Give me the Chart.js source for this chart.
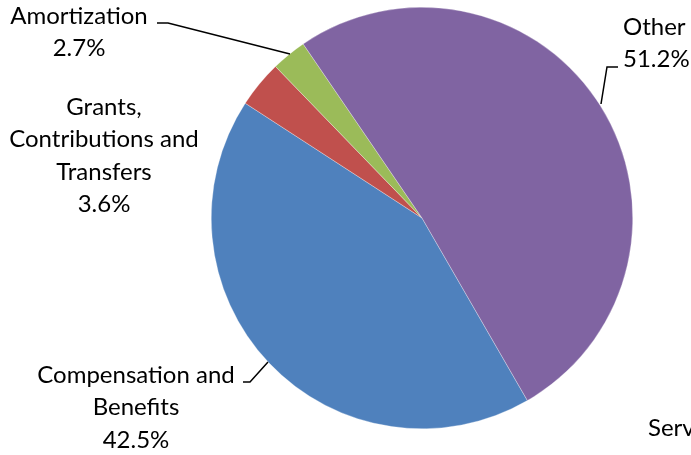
<!DOCTYPE html>
<html>
<head>
<meta charset="utf-8">
<script src="https://cdn.jsdelivr.net/npm/chart.js@4.4.0/dist/chart.umd.min.js"></script>
<style>
  html, body { margin: 0; padding: 0; background: #fff; overflow: hidden; }
  canvas { display: block; }
</style>
</head>
<body>
<canvas id="pieChart" width="691" height="455"></canvas>
<script>
const categories = ["Compensation and Benefits", "Grants, Contributions and Transfers", "Amortization", "Other"];
const shares = [42.5, 3.6, 2.7, 51.2];
const sliceColors = ["#4F81BD", "#C0504D", "#9BBB59", "#8064A2"];

// label text lines, anchored where Excel placed them
const labelLines = [
  ["Compensation and", "Benefits"],
  ["Grants,", "Contributions and", "Transfers"],
  ["Amortization"],
  ["Other"]
];
const labelSpots = [
  { x: 136, y: 375, align: "center" },
  { x: 104, y: 107, align: "center" },
  { x: 79, y: 16, align: "center" },
  { x: 623, y: 27, align: "left" }
];
// leader lines from label to slice edge
const leaders = [
  [[243, 382], [250, 382], [268, 362]],
  null,
  [[157, 23], [168, 23], [290, 54]],
  [[618, 67], [607, 67], [601, 104]]
];

const labelFont = "24px Lato, 'Open Sans', sans-serif";
const lineGap = 32.5;

const pieLabels = {
  id: "pieLabels",
  afterDraw(chart) {
    const ctx = chart.ctx;
    ctx.save();
    ctx.strokeStyle = "#000";
    ctx.lineWidth = 1.5;
    leaders.forEach(pts => {
      if (!pts) return;
      ctx.beginPath();
      ctx.moveTo(pts[0][0], pts[0][1]);
      for (let i = 1; i < pts.length; i++) ctx.lineTo(pts[i][0], pts[i][1]);
      ctx.stroke();
    });
    ctx.fillStyle = "#000";
    ctx.font = labelFont;
    ctx.textBaseline = "middle";
    labelLines.forEach((lines, i) => {
      const spot = labelSpots[i];
      ctx.textAlign = spot.align;
      const all = lines.concat([shares[i].toFixed(1) + "%"]);
      all.forEach((t, k) => ctx.fillText(t, spot.x, spot.y + k * lineGap));
    });
    // cut-off label at the lower right
    ctx.textAlign = "left";
    ctx.fillText("Services", 648, 428);
    ctx.restore();
  }
};

new Chart(document.getElementById("pieChart").getContext("2d"), {
  type: "pie",
  data: {
    labels: categories,
    datasets: [{
      data: shares,
      backgroundColor: sliceColors,
      borderColor: "rgba(255,255,255,0.6)",
      borderWidth: 0.5
    }]
  },
  options: {
    responsive: false,
    maintainAspectRatio: false,
    animation: false,
    rotation: 150,
    layout: { padding: { top: 7, bottom: 26, left: 211, right: 58 } },
    plugins: {
      legend: { display: false },
      tooltip: { enabled: false }
    }
  },
  plugins: [pieLabels]
});
</script>
</body>
</html>
